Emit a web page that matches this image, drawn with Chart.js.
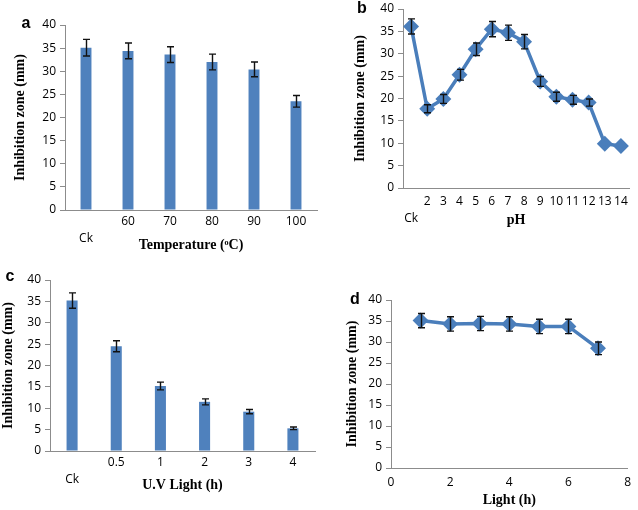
<!DOCTYPE html>
<html>
<head>
<meta charset="utf-8">
<script src="https://cdn.jsdelivr.net/npm/chart.js@4/dist/chart.umd.min.js"></script>
<style>
  html, body { margin: 0; padding: 0; background: #fff; }
  #page { position: relative; width: 638px; height: 510px; overflow: hidden; }
  canvas { position: absolute; }
  .tag { position: absolute; font: bold 16px "Liberation Sans", Arial, sans-serif; color: #000; transform: translate(-50%, -50%); }
</style>
</head>
<body>
<div id="page">
  <canvas id="ca" style="left:0;top:0" width="320" height="256"></canvas>
  <canvas id="cb" style="left:320px;top:0" width="318" height="250"></canvas>
  <canvas id="cc" style="left:0;top:250px" width="320" height="260"></canvas>
  <canvas id="cd" style="left:320px;top:250px" width="318" height="260"></canvas>
  <div class="tag" style="left:26px;top:23px">a</div>
  <div class="tag" style="left:362px;top:8px">b</div>
  <div class="tag" style="left:10px;top:276px">c</div>
  <div class="tag" style="left:355px;top:299px">d</div>
</div>
<script>
// (a) temperature
const tempLabels = ['Ck', '60', '70', '80', '90', '100'];
const tempValues = [35.1, 34.4, 33.6, 32.0, 30.4, 23.5];
const tempErr    = [1.8, 1.7, 1.7, 1.7, 1.6, 1.25];
// (b) pH
const phLabels = ['Ck', '2', '3', '4', '5', '6', '7', '8', '9', '10', '11', '12', '13', '14'];
const phValues = [36.1, 17.7, 19.9, 25.3, 31.0, 35.5, 34.7, 32.7, 23.8, 20.4, 19.7, 19.1, 9.9, 9.4];
const phErr    = [1.7, 0.9, 1.0, 1.2, 1.4, 1.7, 1.7, 1.6, 1.1, 1.0, 1.0, 0.8, 0, 0];
// (c) UV light
const uvLabels = ['Ck', '0.5', '1', '2', '3', '4'];
const uvValues = [35.2, 24.5, 15.2, 11.5, 9.2, 5.3];
const uvErr    = [1.8, 1.3, 0.9, 0.7, 0.5, 0.3];
// (d) light
const lightHours  = [1, 2, 3, 4, 5, 6, 7];
const lightValues = [35.1, 34.3, 34.4, 34.3, 33.7, 33.7, 28.5];
const lightErr    = [1.7, 1.7, 1.7, 1.7, 1.7, 1.7, 1.5];
const yTicks = [0, 40, 5];

const BAR = '#4f81bd', LINE = '#4a7ebb', AXIS = '#8c8c8c';
const tickFont = { family: '"Open Sans", "Liberation Sans", sans-serif', size: 12 };
const titleFont = { family: '"Liberation Serif", "Times New Roman", serif', size: 14, weight: 'bold' };

// error bars drawn from dataset.errors through the chart's own scales
const errorBars = {
  id: 'errorBars',
  afterDatasetsDraw(chart) {
    const { ctx } = chart, y = chart.scales.y;
    chart.data.datasets.forEach((ds, di) => {
      if (!ds.errors) return;
      const meta = chart.getDatasetMeta(di);
      ctx.save();
      ctx.strokeStyle = '#111'; ctx.lineWidth = 1.4;
      meta.data.forEach((el, i) => {
        const e = ds.errors[i];
        if (!e) return;
        const v = typeof ds.data[i] === 'object' ? ds.data[i].y : ds.data[i];
        const top = y.getPixelForValue(v + e), bot = y.getPixelForValue(v - e), x = Math.round(el.x) + 0.5;
        ctx.beginPath();
        ctx.moveTo(x, top); ctx.lineTo(x, bot);
        ctx.moveTo(x - 3.5, top); ctx.lineTo(x + 3.5, top);
        ctx.moveTo(x - 3.5, bot); ctx.lineTo(x + 3.5, bot);
        ctx.stroke();
      });
      ctx.restore();
    });
  }
};

function yAxis(width, titlePad) {
  return {
    min: yTicks[0], max: yTicks[1],
    ticks: { stepSize: yTicks[2], color: '#000', font: { ...tickFont, lineHeight: 0.8 }, padding: 4 },
    grid: { display: true, drawOnChartArea: false, drawTicks: true, tickLength: 5, color: AXIS },
    border: { display: true, color: AXIS },
    title: { display: true, text: 'Inhibition zone (mm)', color: '#000', font: titleFont, padding: { top: titlePad, bottom: 0 } },
    afterFit: s => { s.width = width; }
  };
}

function catAxis(height, title, pad, titlePad, offset) {
  return {
    type: 'category', offset: offset,
    ticks: {
      color: '#000', font: { ...tickFont, lineHeight: 1.4 }, padding: pad, autoSkip: false, maxRotation: 0,
      callback(v) { const l = this.getLabelForValue(v); return l === 'Ck' ? ['', l] : l; }
    },
    grid: { display: false, drawTicks: false },
    border: { display: true, color: AXIS },
    title: { display: true, text: title, color: '#000', font: titleFont, padding: { top: 0, bottom: titlePad } },
    afterFit: s => { s.height = height; }
  };
}

const base = {
  responsive: false, animation: false,
  plugins: { legend: { display: false }, tooltip: { enabled: false } }
};

new Chart(document.getElementById('ca'), {
  type: 'bar',
  data: { labels: tempLabels, datasets: [{ data: tempValues, errors: tempErr, backgroundColor: BAR, categoryPercentage: 1, barPercentage: 0.26 }] },
  options: { ...base, layout: { padding: { left: 0, top: 25, right: 3, bottom: 0 } },
    scales: { x: catAxis(46, 'Temperature (ᵒC)', 3, 2.6, true), y: yAxis(65, 11.6) } },
  plugins: [errorBars]
});

new Chart(document.getElementById('cb'), {
  type: 'line',
  data: { labels: phLabels, datasets: [{ data: phValues, errors: phErr, borderColor: LINE, backgroundColor: LINE, borderWidth: 3.5,
    pointStyle: 'rectRot', pointRadius: 5.5, pointBackgroundColor: LINE, pointBorderColor: LINE, tension: 0 }] },
  options: { ...base, layout: { padding: { left: 0, top: 5, right: 1, bottom: 0 } },
    scales: { x: catAxis(62, 'pH', 5, 21.6, true), y: yAxis(83, 31.6) } },
  plugins: [errorBars]
});

new Chart(document.getElementById('cc'), {
  type: 'bar',
  data: { labels: uvLabels, datasets: [{ data: uvValues, errors: uvErr, backgroundColor: BAR, categoryPercentage: 1, barPercentage: 0.25 }] },
  options: { ...base, layout: { padding: { left: 0, top: 30, right: 5, bottom: 0 } },
    scales: { x: catAxis(59, 'U.V Light (h)', 3, 16.6, true), y: yAxis(50, 0) } },
  plugins: [errorBars]
});

new Chart(document.getElementById('cd'), {
  type: 'line',
  data: { datasets: [{ data: lightHours.map((h, i) => ({ x: h, y: lightValues[i] })), errors: lightErr,
    borderColor: LINE, backgroundColor: LINE, borderWidth: 3.5,
    pointStyle: 'rectRot', pointRadius: 5.5, pointBackgroundColor: LINE, pointBorderColor: LINE, tension: 0 }] },
  options: { ...base, layout: { padding: { left: 0, top: 50, right: 5, bottom: 0 } },
    scales: {
      x: { type: 'linear', min: 0, max: 8,
        ticks: { stepSize: 2, color: '#000', font: tickFont, padding: 7 },
        grid: { display: false, drawTicks: false },
        border: { display: true, color: AXIS },
        title: { display: true, text: 'Light (h)', color: '#000', font: titleFont, padding: { top: 0, bottom: 1.6 } },
        afterFit: s => { s.height = 42; } },
      y: yAxis(71, 23.6)
    } },
  plugins: [errorBars]
});
</script>
</body>
</html>
